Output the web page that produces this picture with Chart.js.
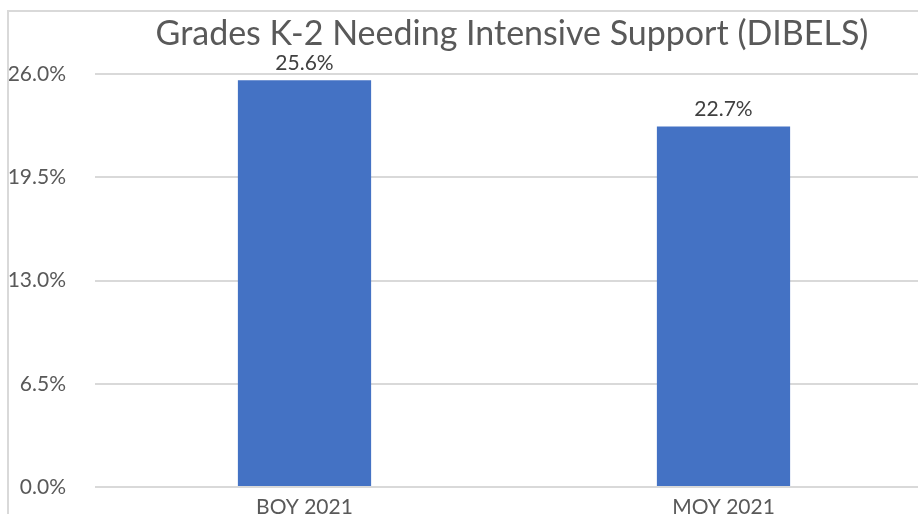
<!DOCTYPE html>
<html>
<head>
<meta charset="utf-8">
<script src="https://cdn.jsdelivr.net/npm/chart.js@4"></script>
<style>
  html, body { margin: 0; padding: 0; background: #fff; overflow: hidden; width: 918px; height: 514px; }
  #frame { position: absolute; left: 7px; top: 10px; border-left: 2px solid #d9d9d9; border-top: 2px solid #d9d9d9; width: 1006px; height: 530px; }
  #c { display: block; }
</style>
</head>
<body>
<div id="frame"><canvas id="c" width="1006" height="530"></canvas></div>
<script>
const categories = ["BOY 2021", "MOY 2021"];
const values = [25.6, 22.7];
const titleText = "Grades K-2 Needing Intensive Support (DIBELS)";
const yMin = 0, yMax = 26, yStep = 6.5;

const FONT = "Lato, 'Open Sans', sans-serif";

// Title centred on the whole chart frame (as in the original), not on the padded layout
const frameTitle = {
  id: 'frameTitle',
  afterDraw(chart) {
    const ctx = chart.ctx;
    ctx.save();
    ctx.font = "34px " + FONT;
    ctx.fillStyle = "#595959";
    ctx.textAlign = "center";
    ctx.textBaseline = "alphabetic";
    ctx.fillText(titleText, chart.width / 2, 33);
    ctx.restore();
  }
};

const dataLabels = {
  id: 'dataLabels',
  afterDatasetsDraw(chart) {
    const ctx = chart.ctx;
    ctx.save();
    ctx.font = "21px " + FONT;
    ctx.fillStyle = "#404040";
    ctx.textAlign = "center";
    ctx.textBaseline = "middle";
    chart.getDatasetMeta(0).data.forEach((bar, i) => {
      ctx.fillText(values[i].toFixed(1) + "%", bar.x, bar.y - 17);
    });
    ctx.restore();
  }
};

new Chart(document.getElementById('c'), {
  type: 'bar',
  data: {
    labels: categories,
    datasets: [{
      data: values,
      backgroundColor: '#4472C4',
      borderWidth: 0,
      categoryPercentage: 1,
      barPercentage: 0.318
    }]
  },
  options: {
    responsive: false,
    animation: false,
    layout: { padding: { left: 0, right: 82, top: 62, bottom: 0 } },
    plugins: {
      legend: { display: false },
      tooltip: { enabled: false },
      title: { display: false }
    },
    scales: {
      x: {
        grid: { display: false },
        border: { display: false },
        ticks: { color: '#595959', font: { family: FONT, size: 21 }, padding: 0 },
        afterFit(s) { s.height = 55; }
      },
      y: {
        min: yMin, max: yMax,
        border: { display: false },
        grid: { color: '#d9d9d9', lineWidth: 2, drawTicks: false },
        ticks: {
          stepSize: yStep,
          color: '#595959',
          font: { family: FONT, size: 21 },
          padding: 29,
          callback: v => v.toFixed(1) + '%'
        },
        afterFit(s) { s.width = 86; }
      }
    }
  },
  plugins: [dataLabels, frameTitle]
});
</script>
</body>
</html>
